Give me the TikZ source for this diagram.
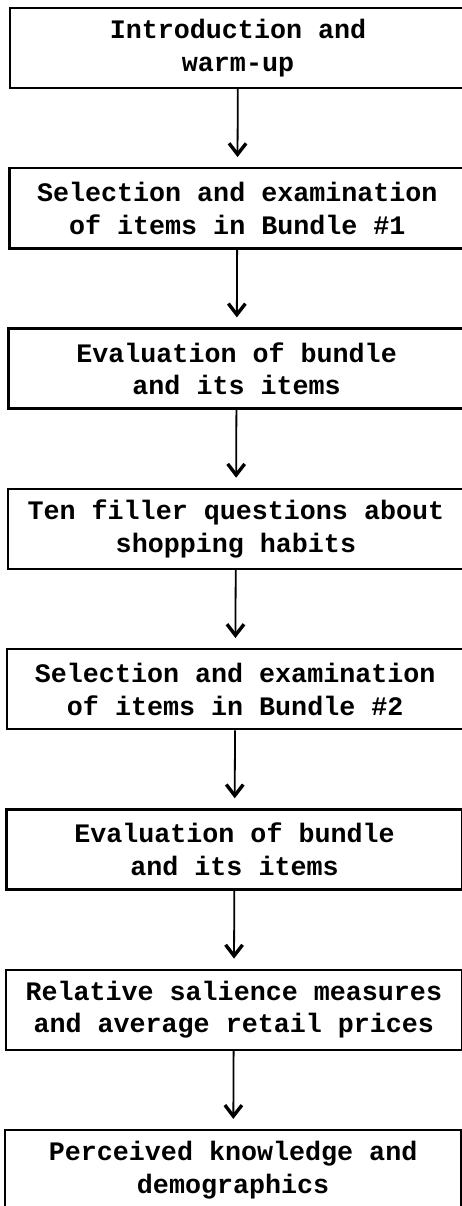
\documentclass[tikz,border=0pt]{standalone}
\usepackage{fontspec}
\setmonofont{Liberation Mono}
\usetikzlibrary{arrows.meta}

\begin{document}
\begin{tikzpicture}[x=1pt, y=-1pt,
    every node/.style = {draw, line width=2.4pt, align=center,
      minimum width=456pt, minimum height=80pt, inner sep=0pt,
      font=\ttfamily\bfseries\fontsize{26.7}{32.5}\selectfont},
    arr/.style = {line width=1.8pt, -{Straight Barb[length=11pt, width=17pt, line width=3.4pt]},
      shorten >=10pt}]
  \useasboundingbox (0,0) rectangle (461,1206);
  \def\numb{8}%
  \foreach \i/\txt in {1/{Introduction and\\warm-up},
      2/{Selection and examination\\of items in Bundle \#1},
      3/{Evaluation of bundle\\and its items},
      4/{Ten filler questions about\\shopping habits},
      5/{Selection and examination\\of items in Bundle \#2},
      6/{Evaluation of bundle\\and its items},
      7/{Relative salience measures\\and average retail prices},
      8/{Perceived knowledge and\\demographics}}
    \node (b\i) at (238 - 0.7 * \i + 0.7, 48 + 160.3 * \i - 160.3) {\txt};

  \foreach \i [evaluate=\i as \j using int(\i+1)] in {1,...,7}
    \draw[arr] (b\i) -- (b\j);
\end{tikzpicture}
\end{document}
